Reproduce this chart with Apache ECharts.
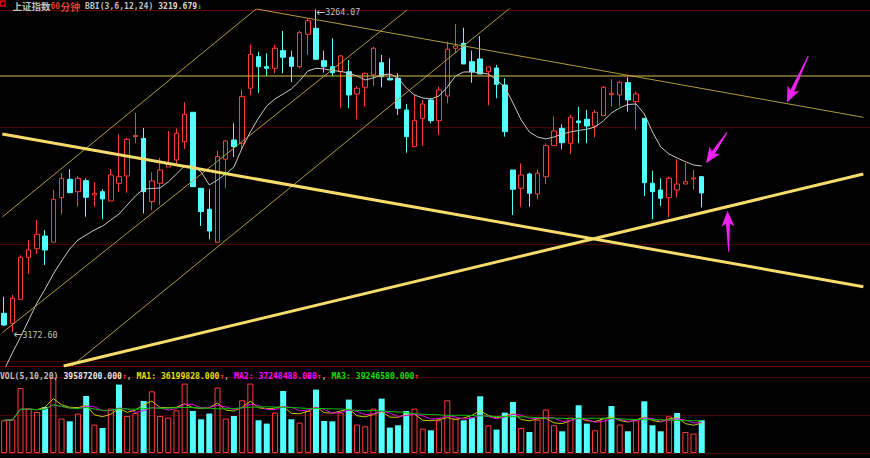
<!DOCTYPE html>
<html><head><meta charset="utf-8">
<script src="https://cdn.jsdelivr.net/npm/echarts@6/dist/echarts.min.js"></script>
<style>html,body{margin:0;padding:0;background:#000;}#c{width:870px;height:458px;}</style>
</head><body><div id="c"></div>
<script>
// ---- candle data (60-minute bars) ----
const opens  = [3177.90,3175.06,3181.87,3193.78,3196.22,3199.82,3198.04,3210.69,3215.91,3212.39,
  3215.51,3211.45,3212.39,3209.75,3214.77,3216.84,3228.04,3227.48,3209.55,3214.77,
  3219.39,3221.38,3226.57,3234.91,3213.35,3207.40,3198.04,3221.58,3227.05,3226.12,
  3241.72,3250.68,3247.84,3247.39,3252.38,3250.51,3247.84,3257.03,3258.73,3249.54,
  3247.84,3246.42,3246.42,3240.10,3242.00,3245.49,3248.98,3244.55,3244.55,3235.56,
  3225.15,3233.21,3238.40,3232.53,3239.53,3253.06,3254.48,3249.26,3250.03,3246.42,
  3247.47,3242.65,3218.54,3213.35,3217.41,3211.74,3216.64,3225.44,3230.37,3226.12,
  3232.44,3232.92,3231.02,3233.94,3239.90,3239.82,3243.30,3237.92,3233.21,3214.77,
  3212.87,3210.69,3212.87,3214.57,3215.99,3216.64];
const closes = [3174.58,3182.15,3193.78,3195.85,3200.31,3195.85,3210.23,3216.19,3212.10,3216.19,
  3210.80,3211.93,3210.32,3217.12,3216.64,3227.25,3228.33,3212.39,3215.42,3218.54,
  3220.44,3228.95,3234.34,3213.81,3206.77,3201.24,3222.32,3226.77,3225.15,3239.33,
  3251.36,3247.84,3247.39,3253.06,3250.51,3247.96,3257.49,3260.89,3249.94,3247.84,
  3246.14,3250.88,3239.82,3241.72,3245.97,3253.06,3245.01,3244.07,3236.04,3227.99,
  3232.53,3237.26,3232.53,3241.23,3252.78,3253.71,3248.61,3246.42,3245.77,3247.76,
  3242.85,3229.41,3213.07,3217.12,3211.93,3217.61,3225.44,3229.60,3226.29,3233.49,
  3231.96,3231.02,3234.91,3242.00,3240.30,3243.42,3238.40,3240.10,3214.94,3212.39,
  3210.52,3216.19,3214.57,3215.22,3216.27,3212.02];
const lows   = [3174.30,3172.60,3181.87,3189.05,3194.72,3191.60,3198.04,3205.98,3212.10,3208.13,
  3205.30,3208.13,3204.56,3209.75,3212.39,3212.10,3226.12,3206.20,3207.11,3208.62,
  3219.39,3219.96,3224.50,3213.81,3202.66,3198.89,3197.84,3213.35,3222.23,3224.70,
  3239.67,3240.47,3245.20,3245.97,3245.97,3243.50,3247.39,3251.16,3249.94,3246.14,
  3245.20,3236.04,3236.04,3232.92,3236.50,3242.37,3242.00,3244.07,3234.14,3223.45,
  3225.15,3225.35,3231.79,3228.47,3237.46,3251.64,3248.61,3243.30,3245.77,3236.84,
  3238.88,3227.99,3205.78,3208.13,3208.13,3210.23,3214.57,3225.44,3224.41,3223.08,
  3226.12,3226.12,3227.82,3233.94,3236.50,3236.50,3235.08,3230.09,3211.17,3204.56,
  3208.33,3205.13,3210.80,3214.57,3213.07,3207.91];
const highs  = [3182.61,3183.09,3194.35,3198.69,3204.36,3201.53,3212.87,3217.61,3218.74,3216.84,
  3216.19,3215.05,3213.07,3218.83,3228.67,3227.62,3234.71,3230.46,3217.89,3222.03,
  3229.60,3230.31,3237.74,3234.91,3213.35,3213.07,3224.02,3227.05,3231.79,3241.32,
  3254.08,3252.10,3251.64,3254.00,3257.97,3252.38,3257.97,3261.57,3264.07,3252.38,
  3255.90,3251.16,3249.74,3242.37,3246.14,3253.51,3251.16,3250.22,3245.97,3237.26,
  3240.01,3238.40,3238.88,3242.17,3254.93,3259.95,3258.90,3252.38,3256.55,3247.84,
  3248.32,3244.55,3218.54,3220.44,3217.78,3218.74,3226.12,3233.66,3231.50,3234.14,
  3236.50,3235.56,3235.56,3242.37,3244.27,3243.87,3244.84,3240.75,3233.21,3218.34,
  3216.19,3216.64,3221.58,3220.61,3218.54,3216.84];
// BBI(3,6,12,24) line
const bbi = [3161.82,3166.64,3171.18,3176.00,3180.82,3184.79,3189.05,3192.73,3196.14,3198.69,
  3200.11,3201.53,3202.66,3204.36,3206.06,3208.62,3211.17,3213.15,3213.30,3213.44,
  3215.14,3217.41,3219.68,3219.68,3217.98,3214.29,3215.71,3217.41,3219.39,3224.78,
  3229.32,3233.29,3236.69,3238.68,3240.10,3241.52,3243.79,3246.62,3247.39,3247.19,
  3246.76,3246.48,3246.05,3245.20,3244.07,3244.64,3245.49,3245.77,3244.64,3241.80,
  3239.82,3238.96,3238.68,3239.53,3242.08,3245.20,3246.34,3246.34,3246.14,3245.77,
  3244.07,3242.08,3237.55,3232.72,3229.32,3227.90,3227.34,3227.90,3228.75,3229.32,
  3229.75,3230.09,3230.74,3232.44,3234.71,3236.13,3237.12,3237.26,3234.43,3229.32,
  3225.07,3223.08,3221.95,3220.90,3219.96,3219.68];
// volume (millions of shares) and bar direction as drawn (1 = red hollow, 0 = cyan)
const volumes = [39.59,40.43,78.69,53.75,49.63,55.69,91.28,41.64,38.38,47.70,
  69.00,34.38,30.27,53.75,82.81,44.79,48.42,62.95,74.69,44.79,
  42.86,51.69,84.02,50.85,40.80,47.70,79.17,41.64,44.79,63.80,
  84.02,39.59,35.59,48.91,75.06,40.80,36.80,50.85,76.75,38.74,
  38.38,48.91,64.65,34.38,32.32,53.75,65.86,30.75,33.53,50.85,
  53.75,29.54,27.48,39.59,63.80,41.64,39.59,42.86,68.64,33.53,
  28.33,48.91,61.74,30.27,25.42,40.43,52.54,33.53,26.27,42.86,
  57.75,35.59,27.48,42.37,56.90,34.38,26.27,39.59,62.59,33.53,
  26.27,44.43,48.42,25.42,23.49,39.5872];
const volUp = [1,1,1,1,1,0,1,1,0,1, 0,1,0,1,0,1,1,0,1,1, 1,1,1,0,0,0,1,1,0,1,
  1,0,0,1,0,0,1,1,0,0, 0,1,0,1,1,1,0,0,0,0, 1,1,0,1,1,1,0,0,0,1,
  0,0,0,1,0,1,1,1,0,1, 0,0,1,1,0,1,0,1,0,0, 0,1,0,1,1,0];
// hand-drawn trend lines: [[barIndex, price], [barIndex, price]]
const thinLines = [
  [[-0.22,3205.21],[30.71,3264.21]],
  [[30.71,3264.21],[104.69,3233.49]],
  [[-0.22,3172.40],[49.10,3263.92]],
  [[8.25,3162.95],[61.68,3264.55]],
  [[-0.5,3245.20],[105.5,3245.20]]
];
const thickLines = [
  [[-0.22,3228.75],[104.69,3185.44]],
  [[7.26,3162.95],[104.69,3217.41]]
];
// annotation arrows: [tailIndex, tailPrice, tipIndex, tipPrice]
const arrows = [
  [97.98,3250.88,95.37,3237.63],
  [88.09,3229.24,85.52,3220.44],
  [88.29,3195.37,88.14,3207.00]
];
const headerName = '上证指数', headerPeriod = ['60','分钟'], bbiLabel = 'BBI(3,6,12,24)', bbiValue = '3219.679';
const volLabel = 'VOL(5,10,20)', volHeader = ['39587200.000','36199828.000','37248488.000','39246580.000'];

const SLOTS = 106;
const slots = Array.from({length: SLOTS}, (_, i) => String(i));
const UP = '#ff3c3c', DOWN = '#54ffff';
const MONO = 'DejaVu Sans Mono', CJK = 'Noto Sans CJK SC';

function movingAvg(n) {
  return volumes.map((_, i) => {
    const s = Math.max(0, i - n + 1); let t = 0;
    for (let k = s; k <= i; k++) t += volumes[k];
    return +(t / (i - s + 1)).toFixed(3);
  });
}

const chart = echarts.init(document.getElementById('c'), null, {renderer: 'svg'});
const GL = -2.36, GW = SLOTS * 8.293;

const lineSeries = [];
thinLines.forEach((seg, k) => lineSeries.push({
  type: 'line', xAxisIndex: 1, yAxisIndex: 0, data: seg, symbol: 'none', silent: true, z: 5,
  lineStyle: {color: k === 4 ? '#d8c050' : '#b09a3c', width: 1}, clip: true
}));
thickLines.forEach(seg => lineSeries.push({
  type: 'line', xAxisIndex: 1, yAxisIndex: 0, data: seg, symbol: 'none', silent: true, z: 6,
  lineStyle: {color: '#f6dc6a', width: 3}, clip: true
}));

const option = {
  backgroundColor: '#000',
  animation: false,
  title: [{
    left: 12.5, top: 0, padding: 0,
    text: '{cn|' + headerName + '}{rd|' + headerPeriod[0] + '}{rc|' + headerPeriod[1] + '}{g| ' + bbiLabel + ' }{v|' + bbiValue + '}{dn|↓}',
    textStyle: {rich: {
      cn: {fontFamily: CJK, fontSize: 9.5, color: '#c0c0c0', lineHeight: 12},
      rd: {fontFamily: MONO, fontSize: 8.1, color: '#e03c3c', lineHeight: 12},
      rc: {fontFamily: CJK, fontSize: 10, color: '#e03c3c', lineHeight: 12},
      g: {fontFamily: MONO, fontSize: 8.1, color: '#c0c0c0', lineHeight: 12},
      v: {fontFamily: MONO, fontSize: 8.1, color: '#d8d8d8', lineHeight: 12},
      dn: {fontFamily: MONO, fontSize: 8.1, color: '#00c000', lineHeight: 12}
    }}
  }, {
    left: 0, top: 367, padding: 0,
    text: '{g|' + volLabel + '} {w|' + volHeader[0] + '}{r|↑}{g|, }{y|MA1: ' + volHeader[1] + '}{r|↑}{g|, }{m|MA2: ' + volHeader[2] + '}{r|↑}{g|, }{gr|MA3: ' + volHeader[3] + '}{r|↑}',
    textStyle: {rich: {
      g: {fontFamily: MONO, fontSize: 8.1, color: '#c0c0c0', lineHeight: 10},
      w: {fontFamily: MONO, fontSize: 8.1, color: '#e8e8e8', lineHeight: 10},
      r: {fontFamily: MONO, fontSize: 8.1, color: '#ff3030', lineHeight: 10},
      y: {fontFamily: MONO, fontSize: 8.1, color: '#e0e000', lineHeight: 10},
      m: {fontFamily: MONO, fontSize: 8.1, color: '#ff00ff', lineHeight: 10},
      gr: {fontFamily: MONO, fontSize: 8.1, color: '#00e000', lineHeight: 10}
    }}
  }],
  graphic: [{type: 'rect', shape: {x: 0.5, y: 1, width: 4.5, height: 5}, style: {fill: '#000', stroke: '#e00000', lineWidth: 1.5}}],
  grid: [
    {left: GL, top: 9, width: GW, height: 357},
    {left: GL, top: 377, width: GW, height: 76},
    {left: GL, top: 10, width: GW, height: 356}
  ],
  xAxis: [
    {type: 'category', gridIndex: 0, data: slots, boundaryGap: true,
     axisLine: {show: true, onZero: false, lineStyle: {color: '#820000', width: 1}},
     axisTick: {show: false}, axisLabel: {show: false}, splitLine: {show: false}},
    {type: 'value', gridIndex: 0, min: -0.5, max: SLOTS - 0.5, show: false},
    {type: 'category', gridIndex: 1, data: slots, boundaryGap: true,
     axisLine: {show: false}, axisTick: {show: false}, axisLabel: {show: false}, splitLine: {show: false}},
    {type: 'value', gridIndex: 2, min: 0, max: 1, position: 'top',
     axisLine: {show: true, onZero: false, lineStyle: {color: '#600000'}},
     axisTick: {show: false}, axisLabel: {show: false}, splitLine: {show: false}}
  ],
  yAxis: [
    {type: 'value', gridIndex: 0, min: 3162.95, max: 3264.2, show: false},
    {type: 'value', gridIndex: 2, inverse: true, min: 0, max: 356, interval: 117,
     axisLine: {show: false}, axisTick: {show: false}, axisLabel: {show: false},
     splitLine: {show: true, lineStyle: {color: '#480000', width: 1}}},
    {type: 'value', gridIndex: 1, min: 0, max: 92, show: false},
    {type: 'value', gridIndex: 1, inverse: true, min: 0, max: 76, interval: 38,
     axisLine: {show: false}, axisTick: {show: false}, axisLabel: {show: false},
     splitLine: {show: true, lineStyle: {color: '#480000', width: 1}}}
  ],
  series: [
    {type: 'candlestick', xAxisIndex: 0, yAxisIndex: 0, z: 3, barWidth: 5,
     data: opens.map((o, i) => [o, closes[i], lows[i], highs[i]]),
     itemStyle: {color: 'rgba(0,0,0,0)', color0: DOWN, borderColor: UP, borderColor0: DOWN, borderWidth: 1},
     markPoint: {
       symbol: 'circle', symbolSize: 0.1, itemStyle: {color: 'rgba(0,0,0,0)'}, silent: true,
       label: {show: true, position: 'right', distance: 0,
         formatter: p => '{a|←}{t|' + p.value.toFixed(2) + '}',
         rich: {a: {fontFamily: 'DejaVu Sans', fontSize: 11, color: '#c0c0c0'},
                t: {fontFamily: MONO, fontSize: 8.3, color: '#c0c0c0'}}},
       data: [
         {type: 'max', valueDim: 'highest', label: {offset: [0, 3]}},
         {type: 'min', valueDim: 'lowest', label: {offset: [1, 3]}}
       ]
     }},
    {type: 'line', xAxisIndex: 0, yAxisIndex: 0, data: bbi, symbol: 'none', z: 4, silent: true,
     lineStyle: {color: '#c8c8c8', width: 1}, clip: true},
    ...lineSeries,
    {type: 'custom', xAxisIndex: 1, yAxisIndex: 0, z: 10, silent: true, data: arrows,
     encode: {x: [0, 2], y: [1, 3]},
     renderItem: function (params, api) {
       const t = api.coord([api.value(0), api.value(1)]);
       const h = api.coord([api.value(2), api.value(3)]);
       const dx = h[0] - t[0], dy = h[1] - t[1], L = Math.hypot(dx, dy);
       const ux = dx / L, uy = dy / L, nx = -uy, ny = ux;
       const hl = 13, hw = 6.5, w0 = 0.5, w1 = 2, back = 3;
       const bx = h[0] - ux * hl, by = h[1] - uy * hl;
       const pts = [
         [t[0] + nx * w0, t[1] + ny * w0],
         [bx + nx * w1, by + ny * w1],
         [bx - ux * back + nx * hw, by - uy * back + ny * hw],
         [h[0], h[1]],
         [bx - ux * back - nx * hw, by - uy * back - ny * hw],
         [bx - nx * w1, by - ny * w1],
         [t[0] - nx * w0, t[1] - ny * w0]
       ];
       return {type: 'polygon', shape: {points: pts}, style: {fill: '#f020f0'}};
     }},
    {type: 'bar', xAxisIndex: 2, yAxisIndex: 2, z: 2, barWidth: 6, silent: true,
     data: volumes.map((v, i) => ({value: v, itemStyle: volUp[i]
        ? {color: 'rgba(0,0,0,0)', borderColor: UP, borderWidth: 1}
        : {color: DOWN, borderWidth: 0}}))},
    {type: 'line', xAxisIndex: 2, yAxisIndex: 2, data: movingAvg(5), symbol: 'none', z: 4, silent: true,
     lineStyle: {color: '#c8c800', width: 1}},
    {type: 'line', xAxisIndex: 2, yAxisIndex: 2, data: movingAvg(10), symbol: 'none', z: 4, silent: true,
     lineStyle: {color: '#e000e0', width: 1}},
    {type: 'line', xAxisIndex: 2, yAxisIndex: 2, data: movingAvg(20), symbol: 'none', z: 4, silent: true,
     lineStyle: {color: '#00c000', width: 1}}
  ]
};
chart.setOption(option);
</script>
</body></html>
